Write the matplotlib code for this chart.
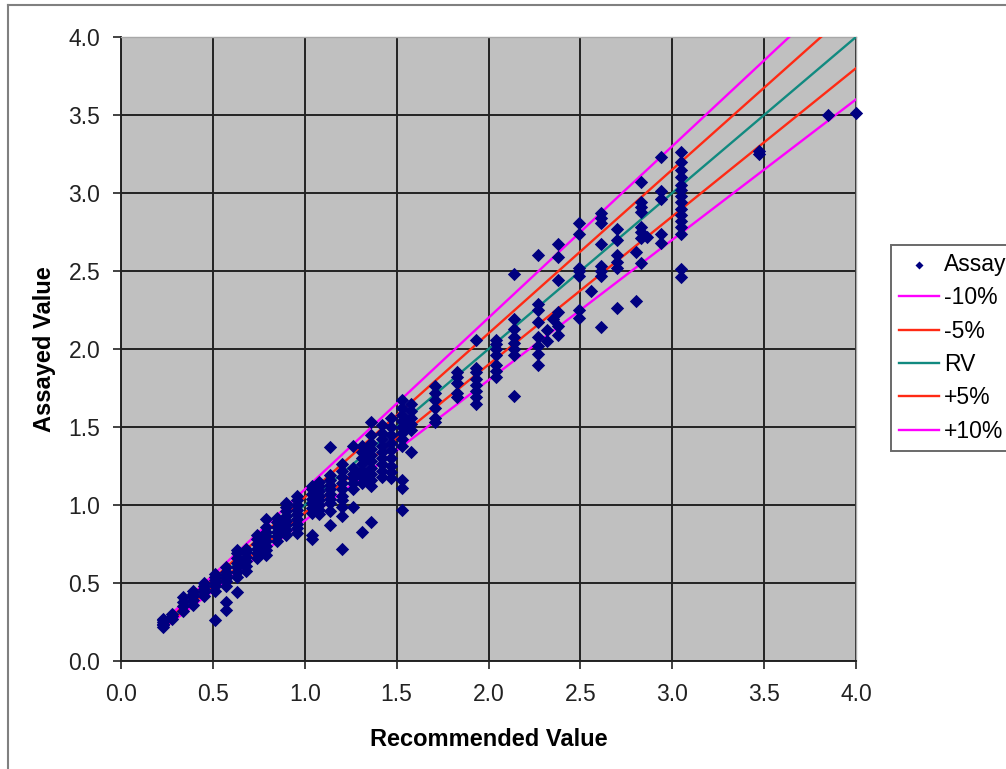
import matplotlib
matplotlib.use("Agg")
import matplotlib.pyplot as plt
from matplotlib.lines import Line2D
import numpy as np

# Recommended value (column) -> assayed values
rv_cols = [0.23, 0.28, 0.34, 0.39, 0.45, 0.51, 0.57, 0.63, 0.68, 0.74,
           0.79, 0.85, 0.90, 0.96, 1.04, 1.08, 1.14, 1.20, 1.26, 1.31,
           1.36, 1.42, 1.47, 1.53, 1.58, 1.71, 1.83, 1.93, 2.04, 2.14,
           2.27, 2.32, 2.35, 2.38, 2.49, 2.56, 2.61, 2.70, 2.80, 2.83,
           2.86, 2.94, 3.05, 3.47, 3.85, 4.00]
assay_cols = [
    [0.22, 0.23, 0.24, 0.25, 0.26, 0.27],
    [0.27, 0.29, 0.30],
    [0.32, 0.35, 0.38, 0.41],
    [0.36, 0.39, 0.42, 0.43, 0.45],
    [0.42, 0.44, 0.46, 0.48, 0.50],
    [0.45, 0.48, 0.50, 0.52, 0.54, 0.56, 0.26],
    [0.48, 0.51, 0.53, 0.55, 0.57, 0.60, 0.38, 0.33],
    [0.54, 0.57, 0.60, 0.63, 0.66, 0.69, 0.71, 0.44],
    [0.58, 0.61, 0.64, 0.67, 0.70, 0.72],
    [0.66, 0.69, 0.72, 0.75, 0.78, 0.81],
    [0.68, 0.71, 0.74, 0.77, 0.80, 0.83, 0.86, 0.91],
    [0.77, 0.80, 0.83, 0.86, 0.89, 0.92],
    [0.81, 0.84, 0.87, 0.90, 0.93, 0.96, 0.99, 1.01],
    [0.82, 0.85, 0.88, 0.91, 0.94, 0.97, 1.00, 1.03, 1.06],
    [0.95, 0.98, 1.01, 1.04, 1.07, 1.10, 1.12, 0.81, 0.78],
    [0.94, 0.97, 1.00, 1.03, 1.06, 1.09, 1.12, 1.15],
    [1.01, 1.04, 1.07, 1.10, 1.13, 1.16, 1.19, 1.37, 0.96, 0.87],
    [1.03, 1.06, 1.10, 1.14, 1.18, 1.22, 1.26, 0.93, 0.72, 0.99],
    [1.10, 1.14, 1.17, 1.20, 1.24, 1.38, 0.99],
    [1.14, 1.18, 1.22, 1.26, 1.30, 1.34, 1.38, 0.83],
    [1.12, 1.16, 1.20, 1.24, 1.28, 1.32, 1.36, 1.40, 1.45, 1.53, 0.89],
    [1.18, 1.22, 1.26, 1.30, 1.34, 1.38, 1.42, 1.46, 1.51],
    [1.17, 1.21, 1.25, 1.30, 1.35, 1.40, 1.45, 1.50, 1.56],
    [1.38, 1.42, 1.46, 1.50, 1.54, 1.58, 1.62, 1.67, 1.16, 1.11, 0.97],
    [1.48, 1.52, 1.56, 1.60, 1.65, 1.34],
    [1.53, 1.56, 1.62, 1.67, 1.72, 1.76],
    [1.69, 1.72, 1.78, 1.82, 1.85],
    [1.65, 1.69, 1.73, 1.77, 1.81, 1.85, 1.88, 2.06],
    [1.82, 1.86, 1.90, 1.96, 2.00, 2.03, 2.06],
    [1.70, 1.96, 2.00, 2.04, 2.08, 2.13, 2.19, 2.48],
    [1.90, 1.97, 2.02, 2.08, 2.17, 2.25, 2.29, 2.60],
    [2.05, 2.12],
    [2.19],
    [2.09, 2.15, 2.24, 2.44, 2.59, 2.67],
    [2.20, 2.25, 2.47, 2.50, 2.52, 2.74, 2.81],
    [2.37],
    [2.14, 2.47, 2.50, 2.53, 2.67, 2.81, 2.84, 2.87],
    [2.26, 2.52, 2.56, 2.60, 2.70, 2.77],
    [2.31, 2.62],
    [2.55, 2.71, 2.75, 2.78, 2.88, 2.91, 2.94, 3.07],
    [2.72],
    [2.68, 2.74, 2.96, 3.01, 3.23],
    [2.46, 2.51, 2.74, 2.78, 2.82, 2.86, 2.90, 2.94, 2.98, 3.02, 3.05,
     3.10, 3.15, 3.20, 3.26],
    [3.25, 3.27],
    [3.50],
    [3.51],
]

rv = np.concatenate([[x] * len(ys) for x, ys in zip(rv_cols, assay_cols)])
assay = np.concatenate(assay_cols)
line_x = np.array(rv_cols)

plt.rcParams['font.family'] = ['Liberation Sans', 'DejaVu Sans']

fig = plt.figure(figsize=(10.06, 7.69), dpi=100)
ax = fig.add_axes([0.1203, 0.1404, 0.7306, 0.8115])
ax.set_facecolor('#c0c0c0')

ax.scatter(rv, assay, marker='D', s=46, color='#000080', zorder=4,
           label='Assay', linewidths=0, clip_on=False)
ax.plot(line_x, line_x * 0.9, color='#ff00ff', lw=1.7, label='-10%', zorder=3)
ax.plot(line_x, line_x * 0.95, color='#ff2a14', lw=1.7, label='-5%', zorder=3)
ax.plot(line_x, line_x, color='#118a80', lw=1.7, label='RV', zorder=3)
ax.plot(line_x, line_x * 1.05, color='#ff2a14', lw=1.7, label='+5%', zorder=3)
ax.plot(line_x, line_x * 1.1, color='#ff00ff', lw=1.7, label='+10%', zorder=3)

ax.set_xlim(0, 4)
ax.set_ylim(0, 4)
ticks = np.arange(0, 4.01, 0.5)
ax.set_xticks(ticks)
ax.set_yticks(ticks)
ax.set_xticklabels([f"{t:.1f}" for t in ticks])
ax.set_yticklabels([f"{t:.1f}" for t in ticks])
ax.grid(True, color='#222222', lw=1.4, zorder=1)
ax.set_axisbelow(True)
ax.tick_params(axis='x', length=6, width=1.2, pad=10, labelsize=16.5, colors='#222222')
ax.tick_params(axis='y', length=6, width=1.2, pad=9, labelsize=16.5, colors='#222222')
for s in ['left', 'bottom']:
    ax.spines[s].set_color('#222222')
    ax.spines[s].set_linewidth(1.4)
for s in ['top', 'right']:
    ax.spines[s].set_color('#a8a8a8')
    ax.spines[s].set_linewidth(1.0)

ax.set_xlabel('Recommended Value', fontsize=17, fontweight='bold', labelpad=16)
ax.set_ylabel('Assayed Value', fontsize=17, fontweight='bold', labelpad=9)

leg = ax.legend(loc='upper left', bbox_to_anchor=(891 / 1006, 1 - 245 / 769),
                bbox_transform=fig.transFigure, frameon=True, fancybox=False,
                fontsize=16.5, handlelength=1.75, handletextpad=0.2,
                labelspacing=0.45, borderpad=0.35, borderaxespad=0,
                scatterpoints=1, markerscale=0.6)
leg.get_frame().set_edgecolor('#444444')
leg.get_frame().set_linewidth(1.4)

# outer chart border (left and top visible)
fig.add_artist(Line2D([8 / 1006, 8 / 1006], [0, 1 - 5 / 769],
                      transform=fig.transFigure, color='#808080', lw=1.5))
fig.add_artist(Line2D([8 / 1006, 1], [1 - 5 / 769, 1 - 5 / 769],
                      transform=fig.transFigure, color='#808080', lw=1.5))

fig.savefig('out.png', dpi=100)
